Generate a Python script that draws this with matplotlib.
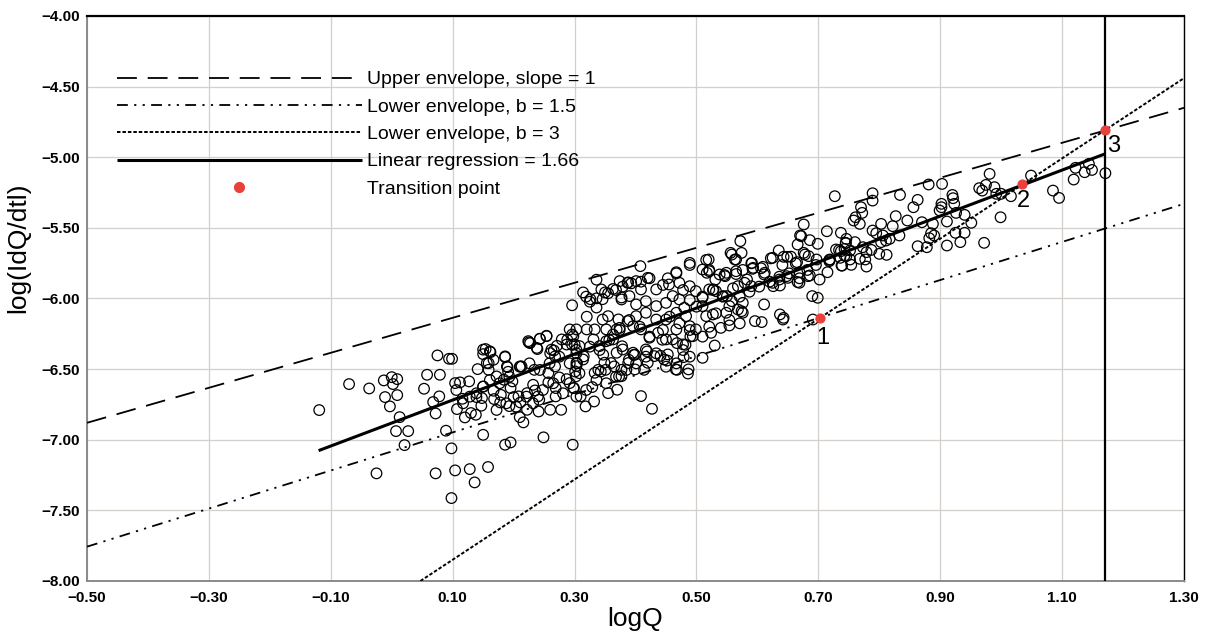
import matplotlib
matplotlib.use("Agg")
import numpy as np
import matplotlib.pyplot as plt
from matplotlib.lines import Line2D
from matplotlib.ticker import FuncFormatter, FixedLocator

# scatter: log discharge vs log of recession rate
log_q = [
    -0.119, -0.070, -0.037, -0.013, 0.000, 0.009, 0.002, -0.011, 0.009, -0.003,
    0.013, 0.007, 0.027, 0.021, -0.025, 0.075, 0.094, 0.099, 0.058, 0.079,
    0.053, 0.068, 0.078, 0.072, 0.089, 0.098, 0.072, 0.104, 0.128, 0.158,
    0.136, 0.098, 0.104, 0.112, 0.127, 0.107, 0.116, 0.120, 0.130, 0.138,
    0.139, 0.148, 0.147, 0.150, 0.150, 0.150, 0.154, 0.162, 0.159, 0.167,
    0.141, 0.159, 0.172, 0.167, 0.168, 0.179, 0.178, 0.186, 0.190, 0.191,
    0.184, 0.195, 0.198, 0.200, 0.193, 0.208, 0.211, 0.211, 0.210, 0.216,
    0.186, 0.195, 0.222, 0.222, 0.225, 0.227, 0.239, 0.243, 0.254, 0.234,
    0.232, 0.235, 0.240, 0.242, 0.241, 0.260, 0.278, 0.249, 0.257, 0.257,
    0.268, 0.260, 0.266, 0.269, 0.269, 0.275, 0.287, 0.292, 0.298, 0.297,
    0.271, 0.288, 0.296, 0.303, 0.301,
    0.336, 0.296, 0.314, 0.320, 0.326, 0.336, 0.350, 0.363, 0.346, 0.377,
    0.388, 0.224, 0.243, 0.254, 0.238, 0.262, 0.279, 0.292, 0.298, 0.287,
    0.150, 0.161, 0.186, 0.156, 0.213, 0.189, 0.268, 0.320, 0.331, 0.352,
    0.369, 0.372, 0.363, 0.378, 0.399, 0.347, 0.360, 0.388, 0.377, 0.339,
    0.303, 0.308,
    0.468, 0.414, 0.370, 0.355, 0.329, 0.332, 0.318, 0.310, 0.299, 0.302,
    0.304, 0.315, 0.343, 0.351, 0.365, 0.373, 0.389, 0.419, 0.397, 0.441,
    0.452, 0.479, 0.468, 0.482, 0.490, 0.444,
    0.676, 0.714, 0.737, 0.745, 0.572, 0.672, 0.666, 0.686, 0.699, 0.635,
    0.625, 0.643, 0.676, 0.684, 0.697, 0.737, 0.746, 0.718, 0.715, 0.556,
    0.574, 0.563, 0.489, 0.520, 0.408, 0.467, 0.510, 0.521, 0.538, 0.549,
    0.565, 0.591, 0.592, 0.609, 0.612, 0.579, 0.590, 0.625, 0.636, 0.650,
    0.669, 0.666, 0.683, 0.702, 0.690, 0.699, 0.691, 0.611, 0.576, 0.568,
    0.576, 0.554, 0.549, 0.596, 0.607, 0.637, 0.642, 0.530, 0.510, 0.466,
    0.486, 0.487, 0.409, 0.427,
    0.303, 0.296, 0.300, 0.308, 0.303, 0.314, 0.344, 0.346, 0.355, 0.333,
    0.374, 0.387, 0.401, 0.409, 0.420, 0.434, 0.377, 0.390, 0.401, 0.417,
    0.434, 0.450, 0.461, 0.472, 0.480, 0.455, 0.472, 0.489, 0.499, 0.510,
    0.521, 0.532, 0.544, 0.510, 0.516, 0.527, 0.540, 0.554, 0.524, 0.489,
    0.499, 0.494, 0.467, 0.478, 0.461, 0.450, 0.437, 0.423, 0.409, 0.396,
    0.387, 0.374, 0.363, 0.352, 0.341, 0.379, 0.369, 0.396, 0.417, 0.431,
    0.447, 0.453, 0.420, 0.399, 0.349, 0.333, 0.377, 0.401, 0.417, 0.434,
    0.450, 0.467, 0.483,
    0.727, 0.670, 0.558, 0.565, 0.649, 0.665, 0.678, 0.719, 0.729, 0.736,
    0.739, 0.752, 0.777, 0.686, 0.669, 0.648, 0.637, 0.626, 0.611, 0.593,
    0.583, 0.568, 0.547, 0.531, 0.517, 0.528, 0.550, 0.558, 0.574, 0.643,
    0.789, 0.789, 0.834, 0.881, 0.903, 0.863, 0.856, 0.827, 0.846, 0.870,
    0.803, 0.822, 0.770, 0.772, 0.761, 0.758, 0.768, 0.789, 0.795, 0.806,
    0.817, 0.833, 0.803, 0.811, 0.800, 0.812, 0.779, 0.787, 0.773, 0.768,
    0.779, 0.754, 0.743, 0.746, 0.743, 0.738, 0.760, 0.752, 0.863, 0.878,
    0.882, 0.890, 0.885, 0.888, 0.899, 0.902, 0.902, 0.920, 0.921, 0.923,
    0.926, 0.911, 0.940, 0.951, 0.925, 0.940, 0.933, 0.911, 0.972, 0.981,
    0.964, 0.969, 0.975, 0.989, 0.992, 1.000, 1.016, 0.999, 1.049, 1.085,
    1.095, 1.119, 1.122, 1.137, 1.144, 1.149, 1.171,
    0.655, 0.663, 0.622, 0.641, 0.606, 0.590, 0.576, 0.565, 0.546, 0.521,
    0.516, 0.489, 0.467, 0.453, 0.445, 0.423, 0.409, 0.393, 0.379, 0.368,
    0.355, 0.336, 0.325, 0.319, 0.478, 0.489, 0.500, 0.510, 0.527, 0.543,
    0.560, 0.571, 0.587, 0.603, 0.620, 0.636, 0.652, 0.669, 0.682, 0.696,
    0.718, 0.734, 0.745, 0.571, 0.554, 0.532, 0.521, 0.510, 0.489, 0.472,
    0.456, 0.445, 0.423, 0.407, 0.390, 0.374, 0.357, 0.341, 0.325, 0.303,
    0.292, 0.275, 0.259, 0.243, 0.226, 0.210, 0.193, 0.177, 0.161, 0.150,
    0.139, 0.128, 0.117, 0.106, 0.478, 0.489, 0.467, 0.450, 0.434, 0.417,
    0.401, 0.385, 0.368, 0.352, 0.336, 0.319, 0.303, 0.281, 0.265, 0.248,
    0.232, 0.221, 0.204, 0.188, 0.172,
]
log_rate = [
    -6.790, -6.606, -6.637, -6.580, -6.557, -6.571, -6.606, -6.698, -6.684, -6.764,
    -6.840, -6.939, -6.939, -7.038, -7.238, -6.403, -6.427, -6.427, -6.540, -6.540,
    -6.639, -6.733, -6.693, -6.814, -6.936, -7.061, -7.238, -7.217, -7.208, -7.193,
    -7.302, -7.413, -6.599, -6.594, -6.587, -6.783, -6.710, -6.842, -6.811, -6.823,
    -6.698, -6.705, -6.759, -6.965, -6.623, -6.394, -6.358, -6.380, -6.458, -6.434,
    -6.500, -6.505, -6.552, -6.653, -6.712, -6.682, -6.736, -6.415, -6.486, -6.519,
    -6.575, -6.634, -6.587, -6.698, -6.762, -6.693, -6.481, -6.736, -6.840, -6.877,
    -7.035, -7.019, -6.788, -6.670, -6.311, -6.316, -6.358, -6.285, -6.264, -6.505,
    -6.611, -6.651, -6.693, -6.717, -6.800, -6.788, -6.788, -6.983, -6.528, -6.594,
    -6.481, -6.387, -6.368, -6.634, -6.693, -6.559, -6.571, -6.599, -6.634, -7.035,
    -6.335, -6.292, -6.328, -6.363, -6.517,
    -5.867, -6.048, -5.957, -6.129, -6.005, -6.064, -5.957, -5.933, -6.005, -5.993,
    -5.886, -6.302, -6.286, -6.267, -6.350, -6.362, -6.290, -6.219, -6.267, -6.326,
    -6.362, -6.374, -6.410, -6.457, -6.481, -6.481, -6.410, -6.219, -6.290, -6.219,
    -6.219, -6.148, -6.290, -6.338, -6.398, -6.398, -6.457, -6.457, -6.505, -6.505,
    -6.457, -6.529,
    -6.505, -6.505, -6.646, -6.670, -6.627, -6.729, -6.764, -6.693, -6.634, -6.552,
    -6.458, -6.410, -6.517, -6.505, -6.481, -6.552, -6.434, -6.375, -6.399, -6.406,
    -6.439, -6.415, -6.316, -6.328, -6.269, -6.292,
    -5.476, -5.524, -5.535, -5.606, -5.594, -5.559, -5.618, -5.587, -5.613, -5.660,
    -5.712, -5.705, -5.677, -5.700, -5.724, -5.665, -5.700, -5.736, -5.814, -5.677,
    -5.677, -5.724, -5.748, -5.724, -5.771, -5.814, -5.795, -5.807, -5.830, -5.818,
    -5.807, -5.748, -5.790, -5.776, -5.818, -5.889, -5.913, -5.889, -5.866, -5.854,
    -5.814, -5.884, -5.842, -5.866, -5.983, -5.995, -6.149, -6.042, -6.031, -6.078,
    -6.101, -6.054, -6.101, -6.160, -6.167, -6.113, -6.149, -6.333, -6.420, -6.502,
    -6.531, -6.502, -6.691, -6.781,
    -6.219, -6.255, -6.325, -6.337, -6.479, -6.432, -5.936, -6.149, -6.125, -6.219,
    -5.877, -5.889, -5.877, -5.936, -5.854, -5.936, -6.007, -5.983, -6.042, -6.019,
    -6.054, -6.031, -5.983, -6.007, -6.066, -5.901, -5.889, -5.913, -5.948, -5.995,
    -5.936, -5.948, -5.983, -6.054, -6.125, -6.113, -6.208, -6.191, -6.243, -6.196,
    -6.219, -6.267, -6.219, -6.325, -6.290, -6.290, -6.243, -6.278, -6.219, -6.196,
    -6.160, -6.208, -6.255, -6.302, -6.337, -6.361, -6.384, -6.384, -6.361, -6.408,
    -6.432, -6.396, -6.455, -6.502, -6.455, -6.526, -6.550, -6.125, -6.101, -6.149,
    -6.149, -6.101, -6.125,
    -5.276, -5.554, -5.689, -5.724, -5.705, -5.743, -5.689, -5.724, -5.653, -5.712,
    -5.767, -5.724, -5.724, -5.837, -5.889, -5.842, -5.908, -5.913, -5.830, -5.783,
    -5.866, -5.913, -5.842, -5.866, -5.818, -5.936, -5.983, -6.019, -6.090, -6.137,
    -5.255, -5.307, -5.267, -5.193, -5.189, -5.302, -5.354, -5.417, -5.448, -5.460,
    -5.472, -5.488, -5.354, -5.394, -5.425, -5.448, -5.472, -5.519, -5.538, -5.554,
    -5.578, -5.554, -5.601, -5.590, -5.684, -5.691, -5.672, -5.656, -5.637, -5.719,
    -5.774, -5.762, -5.649, -5.578, -5.696, -5.767, -5.601, -5.660, -5.630, -5.637,
    -5.573, -5.554, -5.538, -5.472, -5.377, -5.330, -5.354, -5.267, -5.290, -5.330,
    -5.394, -5.455, -5.408, -5.464, -5.535, -5.535, -5.601, -5.625, -5.606, -5.118,
    -5.219, -5.236, -5.196, -5.212, -5.259, -5.259, -5.276, -5.425, -5.130, -5.236,
    -5.288, -5.158, -5.075, -5.106, -5.047, -5.090, -5.113,
    -5.704, -5.751, -5.716, -5.763, -5.786, -5.751, -5.798, -5.827, -5.834, -5.798,
    -5.727, -5.763, -5.822, -5.857, -5.904, -5.857, -5.881, -5.893, -5.916, -5.940,
    -5.963, -5.999, -6.023, -5.987, -5.940, -6.011, -6.058, -5.987, -5.940, -5.987,
    -5.928, -5.987, -5.952, -5.916, -5.881, -5.846, -5.822, -5.857, -5.798, -5.763,
    -5.727, -5.657, -5.609, -6.176, -6.152, -6.105, -6.200, -6.270, -6.223, -6.176,
    -6.129, -6.223, -6.270, -6.200, -6.152, -6.223, -6.294, -6.365, -6.341, -6.388,
    -6.459, -6.412, -6.459, -6.506, -6.459, -6.483, -6.554, -6.600, -6.577, -6.624,
    -6.671, -6.695, -6.742, -6.648, -6.365, -6.412, -6.459, -6.483, -6.388, -6.412,
    -6.459, -6.506, -6.554, -6.600, -6.577, -6.648, -6.695, -6.671, -6.600, -6.648,
    -6.742, -6.695, -6.766, -6.742, -6.789,
]

# envelope and regression lines (end points)
upper_x = [-0.50, 1.30]
upper_y = [-6.88, -4.65]
lower15_x = [-0.50, 1.30]
lower15_y = [-7.757, -5.33]
lower3_x = [0.047, 1.30]
lower3_y = [-8.00, -4.44]
reg_x = [-0.12, 1.17]
reg_y = [-7.077, -4.977]
limit_q = 1.17

# transition points
tp_x = [0.703, 1.034, 1.170]
tp_y = [-6.136, -5.190, -4.810]
tp_labels = ["1", "2", "3"]
tp_offsets = [(3, -20), (2, -17), (9, -16)]

red = "#e8413c"
plt.rcParams["font.family"] = ["Liberation Sans", "DejaVu Sans"]

fig = plt.figure(figsize=(12.12, 6.34), dpi=100)
ax = fig.add_axes([0.0718, 0.0836, 0.9051, 0.8912])

ax.scatter(log_q, log_rate, s=58, facecolors="none", edgecolors="black", linewidths=0.9, zorder=3)

up, = ax.plot(upper_x, upper_y, color="black", lw=1.3, dashes=(11, 6), zorder=4)
lo15, = ax.plot(lower15_x, lower15_y, color="black", lw=1.3, dashes=(6, 3.5, 1.2, 3.5, 1.2, 3.5), zorder=4)
lo3, = ax.plot(lower3_x, lower3_y, color="black", lw=1.4, dashes=(1.8, 1.0), zorder=4)
reg, = ax.plot(reg_x, reg_y, color="black", lw=2.2, solid_capstyle="butt", zorder=5)
ax.axvline(limit_q, color="black", lw=1.6, zorder=4)
tp = ax.scatter(tp_x, tp_y, s=40, color=red, zorder=6)

for x, y, lab, off in zip(tp_x, tp_y, tp_labels, tp_offsets):
    ax.annotate(lab, (x, y), xytext=off, textcoords="offset pixels",
                ha="center", va="center", fontsize=17, zorder=7)

handles = [up, lo15, lo3, reg,
           Line2D([], [], ls="none", marker="o", ms=7, color=red)]
labels = ["Upper envelope, slope = 1", "Lower envelope, b = 1.5",
          "Lower envelope, b = 3", "Linear regression = 1.66", "Transition point"]
ax.legend(handles, labels, loc="upper left", bbox_to_anchor=(0.027, 0.903),
          frameon=False, fontsize=14, handlelength=12.6, handletextpad=0.3,
          labelspacing=0.5, borderpad=0, borderaxespad=0)

ax.set_xlim(-0.5, 1.3)
ax.set_ylim(-8.0, -4.0)
ax.xaxis.set_major_locator(FixedLocator(np.linspace(-0.5, 1.3, 10)))
ax.yaxis.set_major_locator(FixedLocator(np.linspace(-8.0, -4.0, 9)))
fmt = FuncFormatter(lambda v, p: f"{v:.2f}".replace("-", "\u2212"))
ax.xaxis.set_major_formatter(fmt)
ax.yaxis.set_major_formatter(fmt)
ax.tick_params(length=0, labelsize=11, pad=7)
ax.tick_params(axis="y", pad=5)
for t in ax.get_xticklabels() + ax.get_yticklabels():
    t.set_fontweight("bold")

ax.grid(True, color="#d3cfcb", lw=0.9)
ax.set_axisbelow(True)
for side in ["left", "bottom"]:
    ax.spines[side].set_color("#8a8a8a")
    ax.spines[side].set_linewidth(1.4)
ax.spines["top"].set_linewidth(1.6)
ax.spines["right"].set_linewidth(1.0)

ax.set_xlabel("logQ", fontsize=19, labelpad=2)
ax.set_ylabel("log(IdQ/dtl)", fontsize=19)
ax.yaxis.set_label_coords(-0.052, 0.59)

fig.savefig("out.png", dpi=100)
